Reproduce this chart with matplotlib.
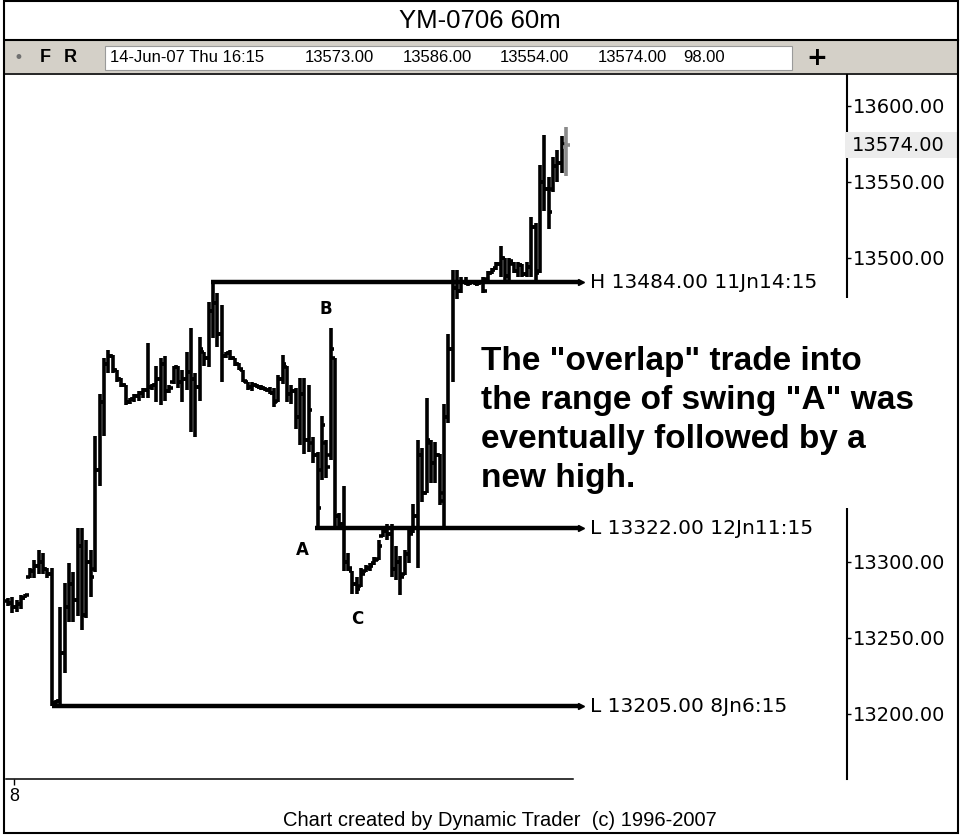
import numpy as np
import matplotlib
import matplotlib.pyplot as plt
from matplotlib.patches import Rectangle
from matplotlib.lines import Line2D
from matplotlib.ticker import FormatStrFormatter
from matplotlib.transforms import blended_transform_factory

matplotlib.use('agg')

# hourly bars, YM-0706 60m
opens = [
    13274, 13273, 13270, 13272, 13276, 13290, 13294, 13297, 13300, 13295,
    13292, 13207, 13208, 13240, 13270, 13285, 13275, 13310, 13265, 13300,
    13295, 13360, 13405, 13430, 13435, 13426, 13420, 13416, 13405, 13407,
    13409, 13411, 13413, 13415, 13416, 13420, 13430, 13412, 13418, 13428,
    13418, 13420, 13425, 13420, 13415, 13438, 13434, 13465, 13470, 13450,
    13435, 13437, 13434, 13430, 13426, 13418, 13415, 13416, 13415, 13414,
    13413, 13411, 13406, 13420, 13428, 13410, 13412, 13395, 13410, 13380,
    13378, 13370, 13360, 13378, 13370, 13434, 13330, 13325, 13300, 13294,
    13285, 13284, 13294, 13296, 13299, 13302, 13317, 13320, 13318, 13295,
    13300, 13292, 13305, 13320, 13330, 13370, 13345, 13378, 13365, 13370,
    13340, 13395, 13440, 13480, 13478, 13484, 13483, 13484, 13483, 13484,
    13486, 13490, 13493, 13496, 13500, 13488, 13496, 13491, 13495, 13489,
    13494, 13520, 13491, 13550, 13545, 13545, 13560, 13562, 13573]
highs = [
    13276, 13277, 13275, 13278, 13279, 13296, 13301, 13308, 13306, 13296,
    13296, 13209, 13270, 13286, 13299, 13293, 13322, 13322, 13314, 13308,
    13383, 13410, 13434, 13439, 13436, 13426, 13421, 13416, 13408, 13410,
    13412, 13414, 13444, 13417, 13429, 13434, 13435, 13416, 13429, 13429,
    13426, 13438, 13454, 13424, 13448, 13438, 13471, 13484, 13477, 13469,
    13438, 13439, 13434, 13431, 13426, 13418, 13418, 13417, 13416, 13415,
    13415, 13414, 13423, 13436, 13429, 13416, 13414, 13421, 13421, 13416,
    13382, 13372, 13396, 13380, 13454, 13434, 13332, 13350, 13306, 13294,
    13290, 13296, 13298, 13299, 13303, 13314, 13322, 13325, 13325, 13310,
    13304, 13308, 13322, 13338, 13380, 13375, 13408, 13380, 13379, 13371,
    13404, 13450, 13492, 13492, 13487, 13487, 13485, 13485, 13485, 13487,
    13491, 13493, 13497, 13508, 13500, 13500, 13497, 13497, 13496, 13497,
    13527, 13523, 13561, 13581, 13553, 13566, 13571, 13580, 13586]
lows = [
    13271, 13266, 13267, 13269, 13276, 13289, 13289, 13292, 13292, 13289,
    13205, 13205, 13205, 13227, 13260, 13260, 13264, 13255, 13263, 13277,
    13293, 13350, 13383, 13424, 13424, 13418, 13415, 13403, 13404, 13405,
    13406, 13408, 13408, 13413, 13405, 13403, 13406, 13411, 13417, 13414,
    13405, 13413, 13385, 13382, 13406, 13429, 13428, 13447, 13441, 13418,
    13434, 13433, 13429, 13426, 13418, 13413, 13412, 13414, 13413, 13412,
    13410, 13402, 13405, 13417, 13405, 13404, 13387, 13377, 13371, 13372,
    13365, 13322, 13354, 13355, 13367, 13322, 13322, 13294, 13294, 13279,
    13279, 13283, 13293, 13294, 13298, 13301, 13316, 13314, 13290, 13288,
    13278, 13291, 13299, 13319, 13296, 13339, 13345, 13352, 13352, 13337,
    13322, 13391, 13418, 13473, 13477, 13482, 13482, 13482, 13482, 13477,
    13485, 13489, 13492, 13487, 13484, 13485, 13490, 13487, 13487, 13487,
    13487, 13485, 13490, 13531, 13519, 13543, 13550, 13556, 13554]
closes = [
    13273, 13270, 13272, 13276, 13278, 13294, 13297, 13300, 13295, 13292,
    13207, 13208, 13240, 13270, 13285, 13275, 13310, 13265, 13300, 13290,
    13360, 13405, 13430, 13435, 13426, 13420, 13416, 13405, 13407, 13409,
    13411, 13413, 13415, 13416, 13420, 13430, 13412, 13414, 13428, 13418,
    13420, 13425, 13420, 13415, 13440, 13434, 13465, 13470, 13450, 13435,
    13437, 13434, 13430, 13427, 13419, 13415, 13416, 13415, 13414, 13413,
    13411, 13405, 13420, 13430, 13410, 13412, 13395, 13410, 13380, 13400,
    13370, 13335, 13390, 13362, 13440, 13330, 13325, 13300, 13296, 13285,
    13282, 13292, 13296, 13297, 13301, 13310, 13320, 13318, 13295, 13300,
    13290, 13305, 13318, 13330, 13370, 13345, 13380, 13365, 13370, 13345,
    13395, 13440, 13480, 13478, 13484, 13483, 13484, 13483, 13484, 13478,
    13490, 13492, 13496, 13500, 13488, 13498, 13491, 13495, 13489, 13494,
    13520, 13490, 13550, 13545, 13530, 13560, 13562, 13575, 13574]

# swing levels: price, bar where it starts, label
levels = [13484, 13322, 13205]
level_start = [46.5, 70.5, 10]
level_labels = ['H 13484.00 11Jn14:15', 'L 13322.00 12Jn11:15', 'L 13205.00 8Jn6:15']

swing_names = ['A', 'B', 'C']
swing_x = [67.5, 73, 80]
swing_y = [13308, 13466, 13262]

# the ticks in 13350-13450 sit under the note box, so they are not shown
price_ticks = [13200, 13250, 13300, 13500, 13550, 13600]
last_price = 13574

note_lines = ['The "overlap" trade into', 'the range of swing "A" was',
              'eventually followed by a', 'new high.']

W, H = 960, 835


def fx(x):
    return x / W


def fy(y):
    return 1 - y / H


fig = plt.figure(figsize=(9.6, 8.35), dpi=100)
fig.patch.set_facecolor('white')

ax = fig.add_axes([fx(5), fy(779), (847 - 5) / W, (779 - 75) / H])
ax.set_facecolor('white')

x = np.arange(len(highs))
o = np.array(opens)
h = np.array(highs)
l = np.array(lows)
c = np.array(closes)
tick = 0.8
blw = 2.6

# OHLC bars, last one in grey
ax.vlines(x[:-1], l[:-1], h[:-1], color='black', lw=blw)
ax.hlines(o[:-1], x[:-1] - tick, x[:-1], color='black', lw=blw)
ax.hlines(c[:-1], x[:-1], x[:-1] + tick, color='black', lw=blw)
ax.vlines(x[-1:], l[-1:], h[-1:], color='#8a8a8a', lw=blw)
ax.hlines(o[-1:], x[-1:] - tick, x[-1:], color='#8a8a8a', lw=blw)
ax.hlines(c[-1:], x[-1:], x[-1:] + tick, color='#8a8a8a', lw=blw)

line_end = 131.2
for lev, st, lab in zip(levels, level_start, level_labels):
    ax.hlines(lev, st, line_end, color='black', lw=3.2)
    ax.plot([line_end + 0.3], [lev], marker='>', ms=4, color='black')
    ax.text(133.5, lev, lab, va='center', ha='left', fontsize=14.5,
            family='DejaVu Sans')

for nm, sx, sy in zip(swing_names, swing_x, swing_y):
    ax.text(sx, sy, nm, ha='center', va='center', fontsize=12,
            fontweight='bold', family='DejaVu Sans')

ax.set_xlim(-0.688, 192.43)
ax.set_ylim(13157.0, 13620.2)

for s in ['left', 'top']:
    ax.spines[s].set_visible(False)
ax.spines['right'].set_linewidth(1.5)
ax.spines['bottom'].set_linewidth(1.1)
ax.spines['bottom'].set_bounds(-0.5, 129.6)

ax.yaxis.tick_right()
ax.set_yticks(price_ticks)
ax.yaxis.set_major_formatter(FormatStrFormatter('%.2f'))
ax.tick_params(axis='y', direction='out', length=3, width=1, pad=1,
               labelsize=14)
ax.set_xticks([1.4])
ax.set_xticklabels(['8'])
ax.tick_params(axis='x', direction='out', length=4.5, width=1, pad=2,
               labelsize=13)
for t in ax.get_xticklabels():
    t.set_family('Liberation Sans')

# white box behind the note
fig.patches.append(Rectangle((fx(470), fy(508)), (958 - 470) / W, (508 - 298) / H,
                             transform=fig.transFigure, facecolor='white',
                             edgecolor='none', zorder=2))
for i, line in enumerate(note_lines):
    fig.text(fx(481), fy(370 + i * 39), line, ha='left', va='baseline',
             fontsize=24, fontweight='bold', family='Liberation Sans', zorder=3)

# last price box on the axis
bt = blended_transform_factory(fig.transFigure, ax.transData)
fig.patches.append(Rectangle((fx(845), last_price - 8.5), (958 - 845) / W, 17,
                             transform=bt, facecolor='#ececec',
                             edgecolor='none', zorder=2))
fig.text(fx(852), last_price, '%.2f' % last_price, transform=bt, ha='left',
         va='center', fontsize=14, family='DejaVu Sans', zorder=3)

# title and toolbar
fig.text(fx(480), fy(21), 'YM-0706 60m', ha='center', va='center',
         fontsize=18.5, family='Liberation Sans')
fig.lines.append(Line2D([fx(5), fx(958)], [fy(40), fy(40)],
                        transform=fig.transFigure, color='black', lw=1.5))
fig.patches.append(Rectangle((fx(5), fy(73)), (958 - 5) / W, (73 - 41) / H,
                             transform=fig.transFigure, facecolor='#d4d0c8',
                             edgecolor='none', zorder=1))
fig.lines.append(Line2D([fx(5), fx(958)], [fy(74), fy(74)],
                        transform=fig.transFigure, color='black', lw=1.2))
fig.patches.append(Rectangle((fx(105), fy(70)), (792 - 105) / W, (70 - 46) / H,
                             transform=fig.transFigure, facecolor='white',
                             edgecolor='#9a9a9a', lw=0.8, zorder=2))
fig.text(fx(18), fy(58), '\u2022', ha='center', va='center', fontsize=12,
         color='#707070', zorder=3)
fig.text(fx(45), fy(58), 'F', ha='center', va='center', fontsize=13,
         fontweight='bold', family='Liberation Sans', zorder=3)
fig.text(fx(70), fy(58), 'R', ha='center', va='center', fontsize=13,
         fontweight='bold', family='Liberation Sans', zorder=3)
fig.text(fx(817), fy(58), '+', ha='center', va='center', fontsize=18,
         fontweight='bold', family='DejaVu Sans', zorder=3)
toolbar_items = ['14-Jun-07 Thu 16:15', '13573.00', '13586.00', '13554.00',
                 '13574.00', '98.00']
toolbar_x = [110, 305, 403, 500, 598, 683]
for tx, item in zip(toolbar_x, toolbar_items):
    fig.text(fx(tx), fy(58), item, ha='left', va='center', fontsize=12,
             family='Liberation Sans', zorder=3)

fig.text(fx(500), fy(820), 'Chart created by Dynamic Trader  (c) 1996-2007',
         ha='center', va='center', fontsize=14.5, family='Liberation Sans')

# outer frame
fig.patches.append(Rectangle((fx(4), fy(833)), (958 - 4) / W, (833 - 1) / H,
                             transform=fig.transFigure, fill=False,
                             edgecolor='black', lw=1.5, zorder=5))

fig.savefig('out.png', dpi=100)
